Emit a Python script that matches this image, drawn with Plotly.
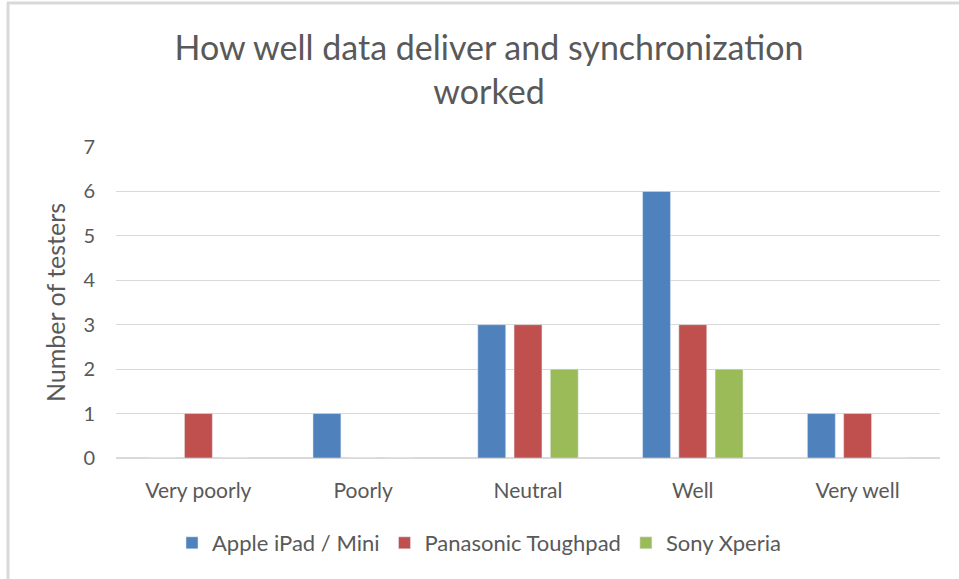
"""Grouped bar chart: how well data delivery and synchronization worked."""

import plotly.graph_objects as go

categories = ["Very poorly", "Poorly", "Neutral", "Well", "Very well"]
apple = [0, 1, 3, 6, 1]
panasonic = [1, 0, 3, 3, 1]
sony = [0, 0, 2, 2, 0]
y_ticks = [0, 1, 2, 3, 4, 5, 6, 7]

series = [
    ("Apple iPad / Mini", apple, "#4F81BD"),
    ("Panasonic Toughpad", panasonic, "#C0504D"),
    ("Sony Xperia", sony, "#9BBB59"),
]

TEXT = "#595959"
FONT = "Lato"

fig = go.Figure()
for name, values, color in series:
    fig.add_trace(go.Bar(x=categories, y=values, name=name, marker_color=color))

fig.update_layout(
    width=959,
    height=579,
    autosize=False,
    margin={"l": 116, "r": 19, "t": 147, "b": 121},
    paper_bgcolor="white",
    plot_bgcolor="white",
    barmode="group",
    bargap=0.34,
    bargroupgap=0.23,
    font={"family": FONT, "size": 21, "color": TEXT},
    title={
        "text": "How well data deliver and synchronization<br>worked",
        "x": 489 / 959,
        "xref": "container",
        "xanchor": "center",
        "y": 1 - 60 / 579,
        "yref": "container",
        "yanchor": "middle",
        "font": {"family": FONT, "size": 34, "color": TEXT},
    },
    legend={
        "orientation": "h",
        "x": 479 / 959,
        "xref": "container",
        "xanchor": "center",
        "y": 1 - 543 / 579,
        "yref": "container",
        "yanchor": "middle",
        "font": {"size": 22, "color": TEXT},
        "itemwidth": 30,
    },
    showlegend=True,
)

fig.update_yaxes(
    range=[0, 7],
    tickvals=y_ticks,
    tickfont={"size": 20},
    showgrid=True,
    gridcolor="#D9D9D9",
    gridwidth=1,
    zeroline=True,
    zerolinecolor="#D9D9D9",
    showline=False,
    ticks="",
    ticklabelstandoff=20,
    title={"text": "Number of testers", "font": {"size": 25, "color": TEXT}, "standoff": 10},
)
fig.update_xaxes(
    showline=True,
    linecolor="#D9D9D9",
    ticks="",
    ticklabelstandoff=14,
)

# light frame on top and left edges, as in the cropped screenshot
fig.add_shape(
    type="line", xref="paper", yref="paper",
    x0=(7 - 116) / 824, x1=(959 - 116) / 824,
    y0=1 + (147 - 3) / 311, y1=1 + (147 - 3) / 311,
    line={"color": "#D9D9D9", "width": 3},
)
fig.add_shape(
    type="line", xref="paper", yref="paper",
    x0=(8 - 116) / 824, x1=(8 - 116) / 824,
    y0=1 + (147 - 3) / 311, y1=-(579 - 458) / 311,
    line={"color": "#D9D9D9", "width": 3},
)

# page body has a default 8px margin; drop it so the figure sits at the corner
fig.write_html(
    "out.html",
    config={"displayModeBar": False},
    post_script="document.body.style.margin='0';",
)
